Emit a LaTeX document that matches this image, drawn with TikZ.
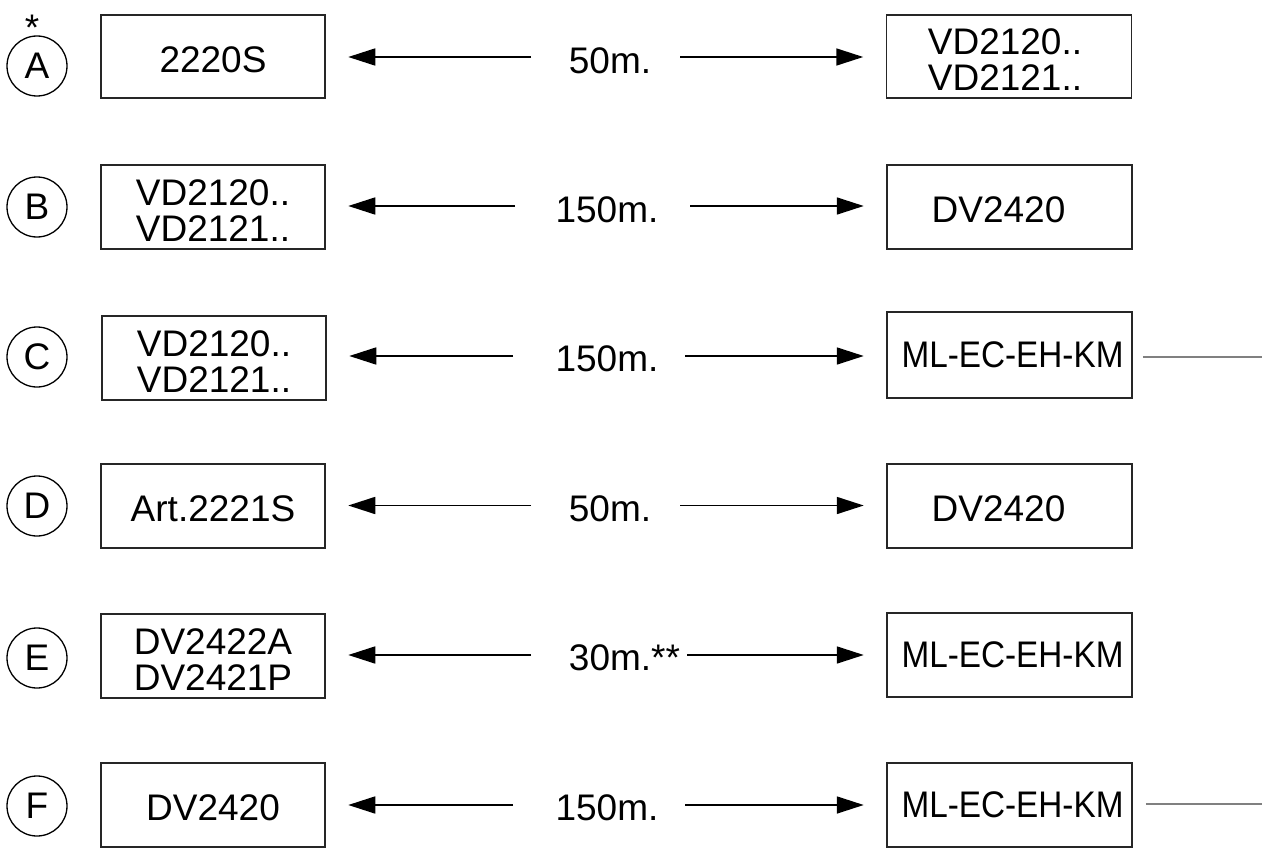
\documentclass[tikz,border=0pt]{standalone}
\usepackage{fontspec}
\setmainfont{Liberation Sans}
\usetikzlibrary{arrows.meta}
\newcommand\fz{\fontsize{37pt}{36pt}\selectfont}
\newcommand\lift{\rule{0pt}{32pt}}
\newcommand\mlec{\scalebox{0.9}[1]{ML-EC-EH-KM}}
\tikzset{
  frame/.style={draw=black!85, line width=1.5pt, inner sep=0pt, align=center, font=\fz, minimum height=84pt},
  lbox/.style={frame, minimum width=224pt},
  rbox/.style={frame, minimum width=245pt},
  tag/.style={draw, circle, line width=1.3pt, minimum size=60pt, inner sep=0pt, font=\fz},
  dist/.style={inner sep=0pt, font=\fz},
  arr/.style={line width=1.7pt, -{Triangle[length=27pt,width=17pt]}, shorten >=22.5pt},
  gline/.style={line width=1.3pt, draw=black!50},
}
\begin{document}
\begin{tikzpicture}[x=1pt,y=-1pt]
\useasboundingbox (0,0) rectangle (1262,867);
% Row A
\node[tag] (cA) at (37,66) {A};
\node[inner sep=0pt, font=\fz, anchor=north] (star) at (32,15) {*};
\node[lbox, minimum height=83pt] (LA) at (213,56.5) {\lift 2220S};
\node[rbox, minimum height=83pt] (RA) at (1009,56.5) {\lift VD2120..\hspace*{8pt}\\VD2121..\hspace*{8pt}};
\node[dist] (tA) at (610,60.5) {50m.};
\coordinate (aL) at (531,57);
\coordinate (aR) at (680,57);
\draw[arr] (aL) -- (aL -| LA.east);
\draw[arr] (aR) -- (aR -| RA.west);
% Row B
\node[tag] (cB) at (37,207) {B};
\node[lbox] (LB) at (213,207) {\lift VD2120..\\VD2121..};
\node[rbox] (RB) at (1009.5,207) {\lift DV2420\hspace*{22pt}};
\node[dist] (tB) at (607,209.5) {150m.};
\coordinate (bL) at (515,206);
\coordinate (bR) at (690,206);
\draw[arr] (bL) -- (bL -| LB.east);
\draw[arr] (bR) -- (bR -| RB.west);
% Row C
\node[tag] (cC) at (37,357) {C};
\node[lbox] (LC) at (214,358) {\lift VD2120..\\VD2121..};
\node[rbox, minimum height=86pt] (RC) at (1009.5,355) {\hspace*{6pt}\mlec};
\node[dist] (tC) at (607,358.5) {150m.};
\coordinate (cL) at (513,356);
\coordinate (cR) at (685,356);
\coordinate (cEnd) at (1262,357);
\draw[arr] (cL) -- (cL -| LC.east);
\draw[arr] (cR) -- (cR -| RC.west);
\draw[gline, shorten <=10pt] (cEnd -| RC.east) -- (cEnd);
% Row D
\node[tag] (cD) at (37,506) {D};
\node[lbox] (LD) at (213,506) {\lift Art.2221S};
\node[rbox] (RD) at (1009.5,506) {\lift DV2420\hspace*{22pt}};
\node[dist] (tD) at (610,508.5) {50m.};
\coordinate (dL) at (531,505.5);
\coordinate (dR) at (680,505.5);
\draw[arr] (dL) -- (dL -| LD.east);
\draw[arr] (dR) -- (dR -| RD.west);
% Row E
\node[tag] (cE) at (37,658) {E};
\node[lbox] (LE) at (213,656) {\lift DV2422A\\DV2421P};
\node[rbox] (RE) at (1009.5,655) {\hspace*{6pt}\mlec};
\node[dist] (tE) at (624.5,658) {30m.**};
\coordinate (eL) at (531,655);
\coordinate (eR) at (687,655);
\draw[arr] (eL) -- (eL -| LE.east);
\draw[arr] (eR) -- (eR -| RE.west);
% Row F
\node[tag] (cF) at (37,806) {F};
\node[lbox] (LF) at (213,805) {\lift DV2420};
\node[rbox] (RF) at (1009.5,805) {\hspace*{6pt}\mlec};
\node[dist] (tF) at (607,808) {150m.};
\coordinate (fL) at (513,805);
\coordinate (fR) at (685,805);
\coordinate (fEnd) at (1262,804);
\draw[arr] (fL) -- (fL -| LF.east);
\draw[arr] (fR) -- (fR -| RF.west);
\draw[gline, shorten <=13pt] (fEnd -| RF.east) -- (fEnd);
\end{tikzpicture}
\end{document}
